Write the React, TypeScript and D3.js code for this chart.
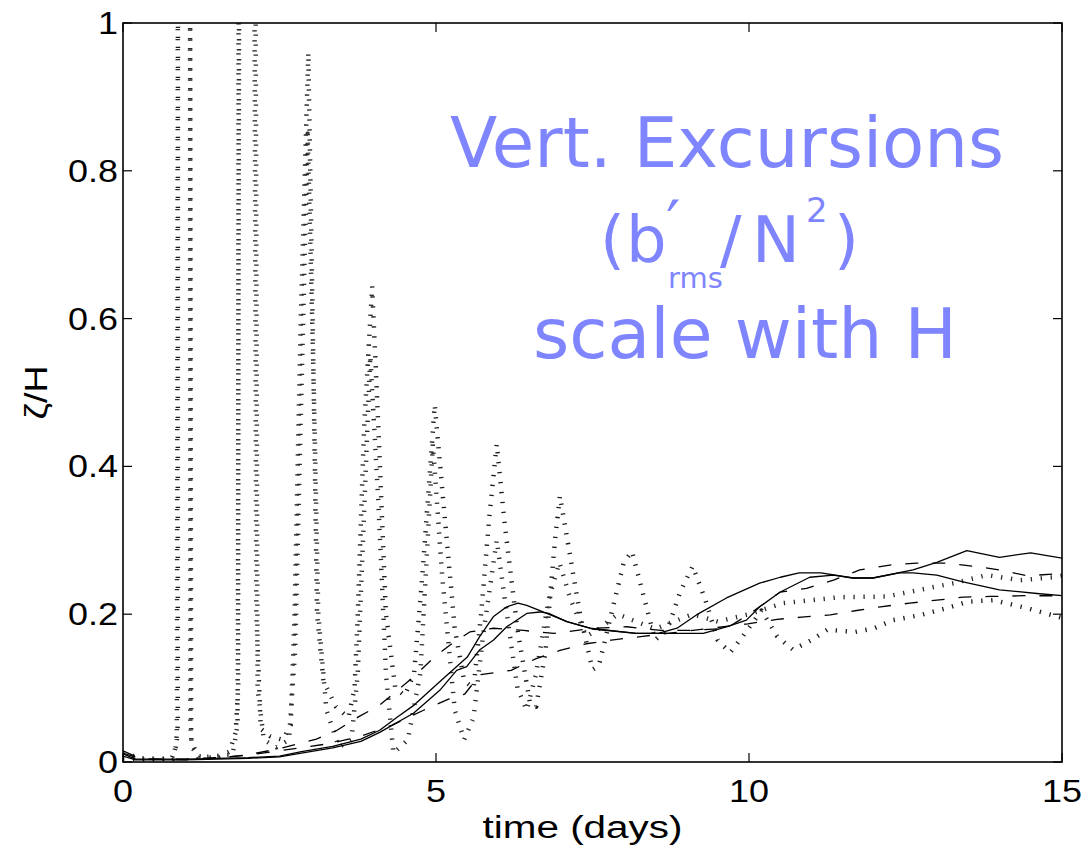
import React from "react";
import * as d3 from "d3";

// ---- data (time in days, value ζ/H) ----
const xTicks = [0, 5, 10, 15];
const yTicks = [0, 0.2, 0.4, 0.6, 0.8, 1];
const xTickLabels = ["0", "5", "10", "15"];
const yTickLabels = ["0", "0.2", "0.4", "0.6", "0.8", "1"];

const solidA: [number, number][] = [
  [0, 0.011], [0.2, 0.004], [1, 0.004], [2, 0.006], [2.5, 0.008], [2.85, 0.014], [3.35, 0.021],
  [3.8, 0.031], [4.1, 0.043], [4.4, 0.062], [4.65, 0.077], [5.05, 0.108], [5.5, 0.142],
  [5.7, 0.17], [5.92, 0.197], [6.13, 0.21], [6.31, 0.215], [6.45, 0.212], [6.77, 0.201],
  [7.09, 0.19], [7.5, 0.18], [8.2, 0.174], [8.55, 0.174], [8.85, 0.181], [9.16, 0.199],
  [9.64, 0.222], [10.17, 0.242], [10.5, 0.25], [10.8, 0.256], [11.15, 0.256], [11.66, 0.249],
  [11.98, 0.249], [12.62, 0.26], [13.0, 0.27], [13.48, 0.286], [14.0, 0.277], [14.5, 0.283],
  [15, 0.276],
];

const solidB: [number, number][] = [
  [0, 0.008], [0.2, 0.003], [1, 0.003], [2, 0.005], [2.5, 0.007], [2.85, 0.012], [3.35, 0.019],
  [3.8, 0.028], [4.1, 0.04], [4.64, 0.066], [5.06, 0.097], [5.33, 0.124], [5.49, 0.129],
  [5.7, 0.152], [5.92, 0.165], [6.13, 0.183], [6.45, 0.201], [6.66, 0.203], [6.8, 0.201],
  [7.09, 0.19], [7.46, 0.181], [8.2, 0.174], [8.55, 0.174], [9.27, 0.174], [9.64, 0.183],
  [9.96, 0.192], [10.17, 0.21], [10.5, 0.23], [10.97, 0.25], [11.35, 0.253], [11.66, 0.249],
  [11.98, 0.249], [12.4, 0.256], [12.62, 0.256], [13.0, 0.253], [13.4, 0.244], [14.0, 0.233],
  [14.6, 0.228], [15, 0.225],
];

const dashedA: [number, number][] = [
  [0, 0.015], [0.3, 0.004], [1, 0.003], [1.5, 0.005], [2, 0.01], [2.5, 0.018], [3.09, 0.031],
  [3.4, 0.042], [3.76, 0.061], [4.1, 0.077], [4.64, 0.115], [4.96, 0.141], [5.22, 0.158],
  [5.54, 0.176], [5.92, 0.181], [6.4, 0.178], [6.88, 0.174], [7.52, 0.181], [8.05, 0.183],
  [8.6, 0.178], [9.1, 0.178], [9.64, 0.181], [10.0, 0.2], [10.5, 0.23], [10.92, 0.235],
  [11.35, 0.246], [11.77, 0.26], [12.3, 0.267], [12.68, 0.269], [13.16, 0.269], [13.58, 0.265],
  [14.0, 0.26], [14.44, 0.252], [15, 0.255],
];

const dashedB: [number, number][] = [
  [0, 0.012], [0.3, 0.004], [1, 0.004], [1.5, 0.006], [1.97, 0.009], [2.4, 0.014], [2.83, 0.019],
  [3.3, 0.025], [3.8, 0.035], [4.3, 0.05], [4.8, 0.07], [5.2, 0.085], [5.46, 0.092], [5.7, 0.118],
  [6.2, 0.124], [6.6, 0.14], [6.98, 0.151], [7.4, 0.16], [7.8, 0.165], [8.3, 0.17], [8.8, 0.175],
  [9.3, 0.18], [9.98, 0.187], [10.45, 0.193], [10.84, 0.196], [11.3, 0.199], [11.72, 0.205],
  [12.1, 0.21], [12.57, 0.215], [13.0, 0.219], [13.42, 0.223], [13.85, 0.224], [14.4, 0.225],
  [15, 0.225],
];

const dottedA: [number, number][] = [
  [0, 0.004], [0.5, 0.003], [0.78, 0.005], [0.84, 0.02], [0.875, 0.05], [0.88, 1.6], [1.07, 1.6],
  [1.075, 0.05], [1.1, 0.02], [1.2, 0.008], [1.5, 0.005], [1.7, 0.014], [1.8, 0.04], [1.84, 0.1],
  [1.85, 1.6], [2.08, 1.6], [2.13, 0.2], [2.2, 0.045], [2.35, 0.035], [2.55, 0.03], [2.68, 0.05],
  [2.74, 0.2], [2.84, 0.6], [2.96, 0.96], [3.03, 0.6], [3.1, 0.2], [3.2, 0.11], [3.4, 0.075],
  [3.6, 0.06], [3.7, 0.1], [3.75, 0.2], [3.85, 0.45], [3.98, 0.644], [4.08, 0.45], [4.2, 0.2],
  [4.35, 0.1], [4.5, 0.09], [4.65, 0.12], [4.78, 0.25], [4.98, 0.483], [5.12, 0.35], [5.3, 0.18],
  [5.45, 0.11], [5.6, 0.1], [5.72, 0.2], [5.85, 0.33], [5.97, 0.43], [6.1, 0.32], [6.3, 0.18],
  [6.5, 0.08], [6.6, 0.075], [6.75, 0.15], [6.9, 0.3], [6.98, 0.36], [7.1, 0.3], [7.3, 0.2],
  [7.5, 0.125], [7.6, 0.13], [7.8, 0.2], [8.0, 0.27], [8.13, 0.285], [8.3, 0.23], [8.5, 0.165],
  [8.7, 0.18], [8.9, 0.23], [9.1, 0.265], [9.3, 0.22], [9.5, 0.165], [9.7, 0.148], [9.9, 0.17],
  [10.2, 0.205], [10.45, 0.17], [10.7, 0.152], [11.0, 0.165], [11.25, 0.179], [11.7, 0.176],
  [12.0, 0.181], [12.3, 0.192], [12.75, 0.199], [13.15, 0.208], [13.5, 0.217], [13.9, 0.219],
  [14.45, 0.208], [15, 0.195],
];

const dottedB: [number, number][] = [
  [0, 0.012], [0.3, 0.005], [0.8, 0.004], [0.86, 0.03], [0.885, 1.6], [1.06, 1.6], [1.09, 0.03],
  [1.2, 0.006], [1.75, 0.01], [1.83, 0.05], [1.87, 1.6], [2.1, 1.6], [2.15, 0.1], [2.25, 0.03],
  [2.45, 0.02], [2.65, 0.03], [2.75, 0.15], [2.95, 0.85], [3.05, 0.5], [3.12, 0.2], [3.25, 0.07],
  [3.45, 0.02], [3.65, 0.03], [3.75, 0.12], [3.95, 0.55], [4.08, 0.35], [4.2, 0.12],
  [4.32, 0.012], [4.55, 0.03], [4.75, 0.12], [4.95, 0.43], [5.1, 0.25], [5.3, 0.07], [5.45, 0.03],
  [5.6, 0.06], [5.75, 0.17], [5.97, 0.3], [6.1, 0.22], [6.3, 0.1], [6.45, 0.07], [6.6, 0.12],
  [6.8, 0.22], [6.97, 0.27], [7.15, 0.22], [7.4, 0.17], [7.6, 0.18], [7.9, 0.2], [8.2, 0.19],
  [8.5, 0.18], [8.8, 0.19], [9.1, 0.2], [9.5, 0.19], [10.0, 0.2], [10.55, 0.215], [11.45, 0.223],
  [12.2, 0.224], [12.73, 0.233], [13.27, 0.242], [13.8, 0.253], [14.33, 0.246], [14.86, 0.25],
  [15, 0.252],
];

const W = 1085;
const H = 850;
const L = 123, R = 1062, T = 23, B = 762;
const tickFont = "'Liberation Sans', Arial, Helvetica, sans-serif";
const noteFont = "'DejaVu Sans', 'Comic Sans MS', sans-serif";
const noteColor = "#7f85ff";
const labelStretch = 1.16;

export default function App() {
  const x = d3.scaleLinear().domain([0, 15]).range([L, R]);
  const y = d3.scaleLinear().domain([0, 1]).range([B, T]);
  const line = d3
    .line<[number, number]>()
    .x((d) => x(d[0]))
    .y((d) => y(d[1]));

  const series = [
    { data: dottedA, dash: "1.3 8.7", width: 4.5, color: "#1a1a1a" },
    { data: dottedB, dash: "1.3 8.7", width: 4.5, color: "#2a2a2a" },
    { data: dashedA, dash: "13 14", width: 1.3, color: "#000" },
    { data: dashedB, dash: "13 14", width: 1.3, color: "#000" },
    { data: solidA, dash: "none", width: 1.3, color: "#000" },
    { data: solidB, dash: "none", width: 1.3, color: "#000" },
  ];

  return (
    <svg
      width={W}
      height={H}
      style={{ position: "absolute", left: 0, top: 0, background: "#fff" }}
    >
      <defs>
        <clipPath id="plotclip">
          <rect x={L} y={T} width={R - L} height={B - T} />
        </clipPath>
      </defs>
      <rect x={0} y={0} width={W} height={H} fill="#fff" />

      <g clipPath="url(#plotclip)">
        {series.map((s, i) => (
          <path
            key={i}
            d={line(s.data) || ""}
            fill="none"
            stroke={s.color}
            strokeWidth={s.width}
            strokeDasharray={s.dash}
            strokeLinejoin="round"
          />
        ))}
      </g>

      {/* box */}
      <rect x={L} y={T} width={R - L} height={B - T} fill="none" stroke="#000" strokeWidth={1.6} />

      {/* ticks */}
      {xTicks.map((t, i) => (
        <g key={"xt" + i}>
          <line x1={x(t)} x2={x(t)} y1={B} y2={B - 9} stroke="#000" strokeWidth={1.2} />
          <line x1={x(t)} x2={x(t)} y1={T} y2={T + 9} stroke="#000" strokeWidth={1.2} />
          <text
            transform={`translate(${x(t)},802) scale(${labelStretch},1)`}
            textAnchor="middle"
            fontFamily={tickFont}
            fontSize={31}
            fill="#000"
          >
            {xTickLabels[i]}
          </text>
        </g>
      ))}
      {yTicks.map((t, i) => (
        <g key={"yt" + i}>
          <line x1={L} x2={L + 9} y1={y(t)} y2={y(t)} stroke="#000" strokeWidth={1.2} />
          <line x1={R} x2={R - 9} y1={y(t)} y2={y(t)} stroke="#000" strokeWidth={1.2} />
          <text
            transform={`translate(118,${y(t) + 11}) scale(${labelStretch},1)`}
            textAnchor="end"
            fontFamily={tickFont}
            fontSize={31}
            fill="#000"
          >
            {yTickLabels[i]}
          </text>
        </g>
      ))}

      {/* axis labels */}
      <text
        x={(L + R) / 2 - 10}
        y={838}
        textAnchor="middle"
        fontFamily={tickFont}
        fontSize={31}
        fill="#000"
        textLength={200}
        lengthAdjust="spacingAndGlyphs"
      >
        time (days)
      </text>
      <text
        transform={`translate(47,${(T + B) / 2}) rotate(-90)`}
        textAnchor="middle"
        fontFamily={tickFont}
        fontSize={31}
        fill="#000"
        textLength={54}
        lengthAdjust="spacingAndGlyphs"
      >
        ζ/H
      </text>

      {/* annotation */}
      <g fontFamily={noteFont} fill={noteColor}>
        <text x={450} y={167} fontSize={70} textLength={554} lengthAdjust="spacingAndGlyphs">
          Vert. Excursions
        </text>
        <text x={600} y={262} fontSize={64}>(</text>
        <text x={626} y={262} fontSize={64}>b</text>
        <text x={666} y={246} fontSize={64}>′</text>
        <text x={668} y={288} fontSize={29}>rms</text>
        <text x={720} y={262} fontSize={64}>/</text>
        <text x={752} y={262} fontSize={64}>N</text>
        <text x={806} y={222} fontSize={34}>2</text>
        <text x={834} y={262} fontSize={64}>)</text>
        <text x={533} y={358} fontSize={70} textLength={424} lengthAdjust="spacingAndGlyphs">
          scale with H
        </text>
      </g>
    </svg>
  );
}
